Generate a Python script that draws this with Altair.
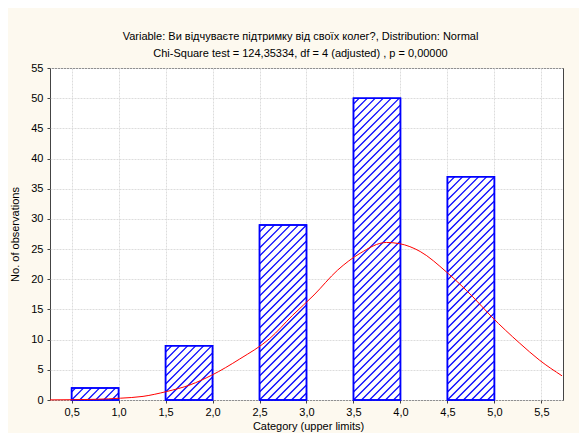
import altair as alt
import pandas as pd

# ---- data ----
bin_lo = [0.5, 1.5, 2.5, 3.5, 4.5]
bin_hi = [1.0, 2.0, 3.0, 4.0, 5.0]
counts = [2, 9, 29, 50, 37]

curve_x = [0.27, 0.77, 1.02, 1.26, 1.51, 1.76, 1.99, 2.29, 2.61, 2.85, 3.08,
           3.33, 3.57, 3.85, 3.99, 4.21, 4.49, 4.77, 4.97, 5.27, 5.48, 5.72]
curve_y = [0.02, 0.12, 0.3, 0.6, 1.4, 2.5, 4.1, 6.8, 10.2, 14.0, 17.4,
           21.5, 24.3, 26.1, 25.9, 24.6, 21.2, 17.1, 13.8, 9.4, 6.6, 4.0]

x_ticks = [0.5, 1.0, 1.5, 2.0, 2.5, 3.0, 3.5, 4.0, 4.5, 5.0, 5.5]
y_ticks = [0, 5, 10, 15, 20, 25, 30, 35, 40, 45, 50, 55]

title_lines = ["Variable: Ви відчуваєте підтримку від своїх колег?, Distribution: Normal",
               "Chi-Square test = 124,35334, df = 4 (adjusted) , p = 0,00000"]

# ---- layout ----
W, H = 513, 332
XDOM = [0.27, 5.73]
YDOM = [0, 55]
FONT = "Liberation Sans"
BLUE = "#0000ff"

bars = pd.DataFrame({"lo": bin_lo, "hi": bin_hi, "n": counts})
curve = pd.DataFrame({"lo": curve_x, "n": curve_y})

# hatch segments derived from the bars (45 degree lines in pixel space)
sx = W / (XDOM[1] - XDOM[0])
sy = H / (YDOM[1] - YDOM[0])
step = 8.0
rows = []
for lo, hi, n in zip(bin_lo, bin_hi, counts):
    bw = (hi - lo) * sx
    bh = n * sy
    k = -int(bh // step) - 1
    while k * step <= bw:
        u = k * step
        ys = max(0.0, -u)
        ye = min(bh, bw - u)
        if ye - ys > 0.5:
            rows.append({"lo": lo + (ys + u) / sx, "n": ys / sy,
                         "hi": lo + (ye + u) / sx, "n2": ye / sy})
        k += 1
hatch = pd.DataFrame(rows)

xscale = alt.Scale(domain=XDOM, nice=False, zero=False)
yscale = alt.Scale(domain=YDOM, nice=False)

xaxis = alt.Axis(values=x_ticks, labelExpr="replace(format(datum.value, '.1f'), '.', ',')",
                 title="Category (upper limits)", grid=True, gridColor="#dcdcdc",
                 gridDash=[2, 1], tickSize=3, tickColor="#444", domain=False,
                 labelPadding=3, labelFont=FONT, labelFontSize=11, labelColor="#000",
                 titleFont=FONT, titleFontSize=11, titleFontWeight="normal", titleColor="#000",
                 titleBaseline="bottom", titleY=31, titleX=258)
yaxis = alt.Axis(values=y_ticks, title="No. of observations", grid=True, gridColor="#dcdcdc",
                 gridDash=[2, 1], tickSize=3, tickColor="#444", domain=False,
                 labelPadding=4, labelFont=FONT, labelFontSize=11, labelColor="#000",
                 titleFont=FONT, titleFontSize=11, titleFontWeight="normal", titleColor="#000",
                 titleAngle=-90, titleX=-35, titleY=166, titleAlign="center",
                 titleBaseline="middle")

X = alt.X("lo:Q", scale=xscale, axis=xaxis)
Y = alt.Y("n:Q", scale=yscale, axis=yaxis)

base_bars = alt.Chart(bars).mark_rect(fill="white", stroke=BLUE, strokeWidth=1.5).encode(
    x=X, x2="hi", y=Y, y2=alt.datum(0),
)

hatch_layer = alt.Chart(hatch).mark_rule(color=BLUE, strokeWidth=1.2).encode(
    x=X, x2="hi", y=Y, y2="n2",
)

outline = alt.Chart(bars).mark_rect(fill=None, stroke=BLUE, strokeWidth=1.5).encode(
    x=X, x2="hi", y=Y, y2=alt.datum(0),
)

curve_layer = alt.Chart(curve).mark_line(color="#ff0000", strokeWidth=1,
                                         interpolate="monotone").encode(
    x=X, y=Y,
)

chart = alt.layer(base_bars, hatch_layer, outline, curve_layer).properties(
    width=W, height=H,
    autosize=alt.AutoSizeParams(type="none"),
    padding={"left": 42, "top": 60, "right": 16, "bottom": 33},
    background="#fdf9ef",
    title=alt.TitleParams(text=title_lines, font=FONT, fontSize=11, fontWeight="normal",
                          color="#000", anchor="middle", offset=3, lineHeight=17, dx=-6),
).configure_view(fill="white", stroke="#444", strokeWidth=1)

chart.save("out.html", embed_options={"renderer": "svg", "actions": False})
